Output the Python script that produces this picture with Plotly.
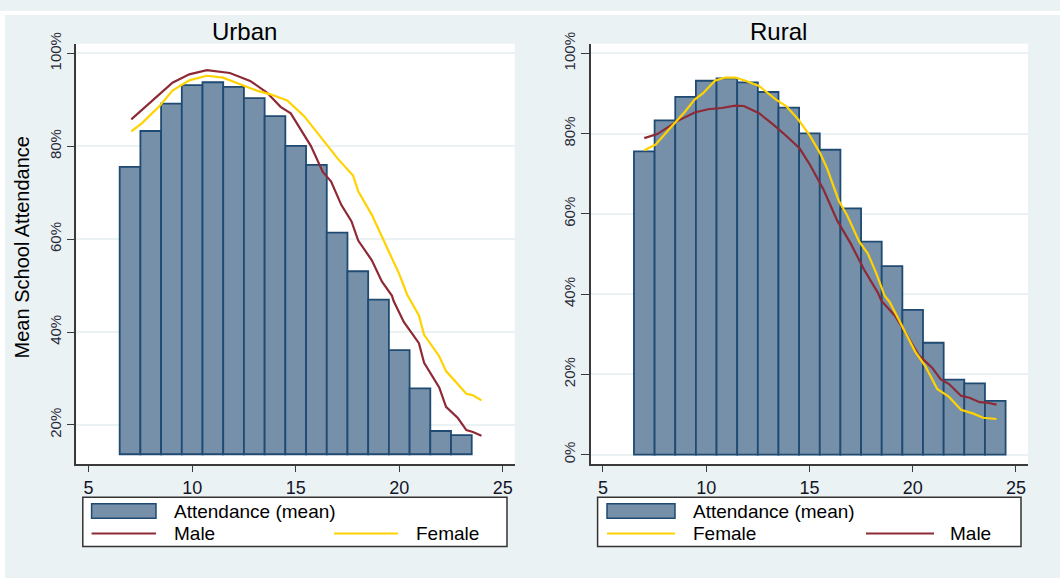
import plotly.graph_objects as go

# ---------------- data ----------------
ages_urban = list(range(7, 24))
ages_rural = list(range(7, 25))
attendance = [75.6, 83.3, 89.2, 93.2, 93.8, 92.8, 90.4, 86.5, 80.1, 76.0,
              61.4, 53.1, 47.0, 36.1, 27.9, 18.7, 17.8, 13.4]
urban_base = 13.7

urban_male_x = [7.06, 7.58, 8.23, 9.05, 9.86, 10.71, 11.82, 12.80, 13.61, 14.27, 14.76,
                15.41, 15.73, 16.31, 16.71, 17.20, 17.69, 18.02, 18.67, 19.16, 19.65,
                19.73, 20.22, 20.95, 21.20, 21.93, 22.26, 22.83, 23.24, 23.56, 23.97]
urban_male_y = [85.8, 87.9, 90.5, 93.7, 95.5, 96.4, 95.8, 94.1, 91.6, 88.5, 87.1,
                82.2, 80.1, 74.5, 72.4, 67.4, 63.9, 59.7, 55.5, 50.9, 47.8,
                46.7, 42.2, 37.6, 33.4, 28.1, 23.9, 21.5, 18.9, 18.5, 17.7]
urban_female_x = [7.06, 7.58, 8.39, 9.05, 9.86, 10.71, 11.49, 12.15, 13.12, 13.78, 14.59,
                  15.41, 16.39, 17.04, 17.77, 18.02, 18.67, 19.32, 19.98, 20.38, 20.95,
                  21.20, 21.93, 22.26, 22.75, 23.24, 23.56, 23.97]
urban_female_y = [83.2, 85.0, 88.5, 92.0, 94.2, 95.2, 94.8, 93.7, 92.0, 91.2, 89.9,
                  86.5, 81.1, 77.3, 73.7, 70.3, 65.3, 59.0, 52.7, 48.1, 43.6,
                  39.4, 34.8, 31.6, 29.2, 26.7, 26.4, 25.3]

rural_male_x = [7.00, 7.63, 8.62, 9.44, 10.09, 10.75, 11.41, 11.82, 12.56, 13.22, 13.87,
                14.53, 15.03, 15.68, 16.34, 17.00, 17.65, 18.31, 18.48, 19.13, 19.63,
                20.28, 20.94, 21.35, 21.76, 22.34, 22.75, 23.24, 23.57, 24.06]
rural_male_y = [78.9, 79.9, 83.2, 85.3, 86.1, 86.4, 87.0, 86.9, 85.1, 82.4, 79.5,
                76.3, 72.2, 66.1, 58.4, 52.6, 46.1, 40.4, 38.4, 34.7, 30.6,
                24.9, 21.7, 18.8, 17.6, 14.7, 14.2, 13.1, 13.0, 12.5]
rural_female_x = [7.00, 7.55, 8.29, 8.94, 9.44, 9.85, 10.42, 10.92, 11.41, 11.90, 12.56,
                  13.38, 13.87, 14.45, 15.02, 15.52, 15.85, 16.42, 16.83, 17.41, 17.82,
                  18.23, 18.64, 18.89, 19.46, 20.12, 20.61, 21.19, 21.76, 22.34, 22.91,
                  23.41, 24.06]
rural_female_y = [75.9, 77.3, 81.6, 85.3, 88.5, 90.1, 93.2, 94.0, 94.0, 93.2, 91.9,
                  88.5, 86.9, 83.6, 79.5, 75.1, 71.4, 63.3, 59.6, 53.1, 50.2,
                  45.3, 39.6, 38.0, 32.3, 25.7, 22.1, 16.4, 14.4, 11.2, 10.3,
                  9.2, 8.9]

x_ticks = [5, 10, 15, 20, 25]
urban_y_ticks = [20, 40, 60, 80, 100]
rural_y_ticks = [0, 20, 40, 60, 80, 100]
urban_y_labels = [f"{v}%" for v in urban_y_ticks]
rural_y_labels = [f"{v}%" for v in rural_y_ticks]

# ---------------- styles ----------------
W, H = 1060, 578
BG = "#EAF2F3"
BAR_FILL = "#7690AA"
BAR_LINE = "#1F4A72"
MALE = "#8E2A36"
FEMALE = "#FFD200"
AXIS = "#3a3a3a"
FONT = "Liberation Sans, Arial, sans-serif"


def px(x):
    return x / W


def py(y):
    return 1 - y / H


fig = go.Figure()

urban_att = attendance[:len(ages_urban)]
fig.add_trace(go.Bar(x=ages_urban, y=[v - urban_base for v in urban_att], base=urban_base,
                     width=1, marker=dict(color=BAR_FILL, line=dict(color=BAR_LINE, width=1.8)),
                     showlegend=False, xaxis="x", yaxis="y"))
fig.add_trace(go.Scatter(x=urban_male_x, y=urban_male_y, mode="lines",
                         line=dict(color=MALE, width=2.2), showlegend=False, xaxis="x", yaxis="y"))
fig.add_trace(go.Scatter(x=urban_female_x, y=urban_female_y, mode="lines",
                         line=dict(color=FEMALE, width=2.2), showlegend=False, xaxis="x", yaxis="y"))

fig.add_trace(go.Bar(x=ages_rural, y=attendance, width=1,
                     marker=dict(color=BAR_FILL, line=dict(color=BAR_LINE, width=1.8)),
                     showlegend=False, xaxis="x2", yaxis="y2"))
fig.add_trace(go.Scatter(x=rural_male_x, y=rural_male_y, mode="lines",
                         line=dict(color=MALE, width=2.2), showlegend=False, xaxis="x2", yaxis="y2"))
fig.add_trace(go.Scatter(x=rural_female_x, y=rural_female_y, mode="lines",
                         line=dict(color=FEMALE, width=2.2), showlegend=False, xaxis="x2", yaxis="y2"))

xaxis_common = dict(range=[4.41, 25.58], tickvals=x_ticks, ticks="outside", ticklen=6,
                    tickwidth=1.3, tickcolor=AXIS, showline=True, linecolor=AXIS, linewidth=1.5,
                    showgrid=False, zeroline=False,
                    tickfont=dict(family=FONT, size=18, color="#141428"))
yaxis_common = dict(ticks="outside", ticklen=8, tickwidth=1.3, tickcolor=AXIS, showline=True,
                    linecolor=AXIS, linewidth=1.5, showgrid=True, gridcolor=BG, gridwidth=1.5,
                    zeroline=False, tickangle=-90, tickmode="array",
                    tickfont=dict(family=FONT, size=15, color="#2a2a3a"))

fig.update_layout(
    width=W, height=H, margin=dict(l=0, r=0, t=0, b=0),
    paper_bgcolor=BG, plot_bgcolor="white", barmode="overlay",
    xaxis=dict(domain=[px(76.4), px(514.8)], anchor="y", **xaxis_common),
    yaxis=dict(domain=[py(462), py(33.3)], anchor="x", range=[11.55, 102.11],
               tickvals=urban_y_ticks, ticktext=urban_y_labels, **yaxis_common),
    xaxis2=dict(domain=[px(590.8), px(1027.9)], anchor="y2", **xaxis_common),
    yaxis2=dict(domain=[py(462), py(33.3)], anchor="x2", range=[-2.37, 102.44],
                tickvals=rural_y_ticks, ticktext=rural_y_labels, **yaxis_common),
)

shapes = []
annotations = []

# thin white outer border (top / left)
shapes.append(dict(type="rect", xref="paper", yref="paper", x0=0, x1=px(5), y0=0, y1=1,
                   fillcolor="white", line=dict(width=0), layer="below"))
shapes.append(dict(type="rect", xref="paper", yref="paper", x0=0, x1=1, y0=py(4), y1=1,
                   fillcolor="white", line=dict(width=0), layer="below"))

# titles
annotations.append(dict(text="Urban", xref="paper", yref="paper", x=px(244), y=py(20.5),
                        showarrow=False, xanchor="center", yanchor="middle",
                        font=dict(family=FONT, size=24, color="black")))
annotations.append(dict(text="Rural", xref="paper", yref="paper", x=px(778), y=py(20.5),
                        showarrow=False, xanchor="center", yanchor="middle",
                        font=dict(family=FONT, size=24, color="black")))
annotations.append(dict(text="Mean School Attendance", xref="paper", yref="paper",
                        x=px(22), y=py(241), textangle=-90, showarrow=False,
                        xanchor="center", yanchor="middle",
                        font=dict(family=FONT, size=20, color="black")))


def legend(box, swatch, row1_text_x, items):
    bx0, bx1, by0, by1 = box
    shapes.append(dict(type="rect", xref="paper", yref="paper", x0=px(bx0), x1=px(bx1),
                       y0=py(by1), y1=py(by0), fillcolor="white",
                       line=dict(color="#333333", width=1.5)))
    sx0, sx1 = swatch
    shapes.append(dict(type="rect", xref="paper", yref="paper", x0=px(sx0), x1=px(sx1),
                       y0=py(517), y1=py(502.3), fillcolor=BAR_FILL,
                       line=dict(color=BAR_LINE, width=1.5)))
    annotations.append(dict(text="Attendance (mean)", xref="paper", yref="paper",
                            x=px(row1_text_x), y=py(510), showarrow=False, xanchor="left",
                            yanchor="middle", font=dict(family=FONT, size=19, color="black")))
    for (lx0, lx1, tx, label, color) in items:
        shapes.append(dict(type="line", xref="paper", yref="paper", x0=px(lx0), x1=px(lx1),
                           y0=py(532.7), y1=py(532.7), line=dict(color=color, width=2)))
        annotations.append(dict(text=label, xref="paper", yref="paper", x=px(tx), y=py(532.7),
                                showarrow=False, xanchor="left", yanchor="middle",
                                font=dict(family=FONT, size=19, color="black")))


legend((82.8, 507, 495.7, 546), (91.6, 156), 171.7,
       [(91.6, 156, 171.7, "Male", MALE), (334, 398, 414, "Female", FEMALE)])
legend((597.6, 1021, 495.7, 546), (607, 675), 690.6,
       [(607, 675, 690.6, "Female", FEMALE), (866, 934, 947.5, "Male", MALE)])

fig.update_layout(shapes=shapes, annotations=annotations)

fig.write_html("out.html")
